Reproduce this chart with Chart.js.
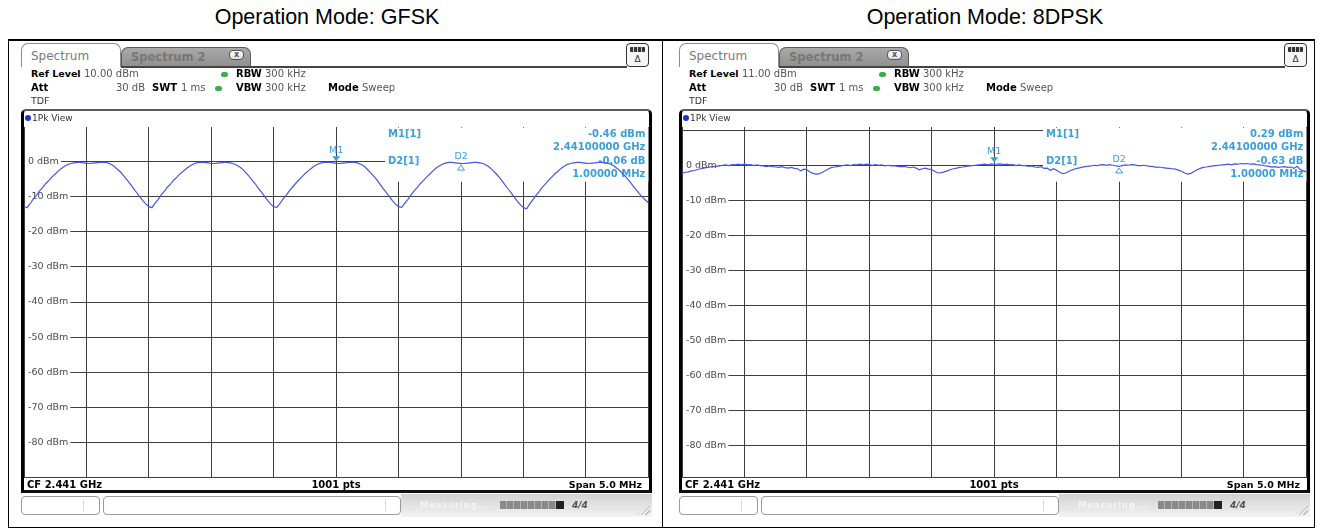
<!DOCTYPE html>
<html>
<head>
<meta charset="utf-8">
<title>Spectrum plots</title>
<script src="https://cdn.jsdelivr.net/npm/chart.js@4.4.1/dist/chart.umd.min.js"></script>
<style>
  html, body { margin: 0; padding: 0; background: #fff; }
  body { position: relative; width: 1322px; height: 529px; overflow: hidden; font-family: "DejaVu Sans", Verdana, sans-serif; }
  .title { position: absolute; top: 7px; width: 460px; text-align: center; font-family: "Liberation Sans", Arial, sans-serif; font-size: 21.5px; line-height: 21.5px; color: #000; }
  .panel { position: absolute; top: 0; width: 660px; height: 529px; }
  .box { position: absolute; box-sizing: border-box; }
  canvas { position: absolute; display: block; z-index: 1; }
</style>
</head>
<body>
<script>
// ---- measurement data ----
const modes = ['GFSK', '8DPSK'];
const refLevelsDbm = [10.00, 11.00];
const CF_GHZ = 2.441;
const SPAN_MHZ = 5.0;
const SWEEP_POINTS = 1001;
const TRACE_STEP_MHZ = 0.025;           // trace values every 25 kHz from CF - span/2
const yTickLabels = [0, -10, -20, -30, -40, -50, -60, -70, -80];
const yGridDbm = [10, 0, -10, -20, -30, -40, -50, -60, -70, -80];
const xGridMHz = [-2.5, -2.0, -1.5, -1.0, -0.5, 0, 0.5, 1.0, 1.5, 2.0, 2.5];
const markerNames = ['M1', 'D2'];
const markerOffsetsMHz = [0, 1.0];

const gfskLevel = [
  -12.7,
  -13.1, -11.9, -10.6, -9.5, -8.3, -7.3, -6.2, -5.3, -4.3, -3.5,
  -2.6, -1.9, -1.3, -0.8, -0.5, -0.3, -0.2, -0.2, -0.3, -0.4,
  -0.5, -0.4, -0.3, -0.2, -0.1, -0.2, -0.4, -0.8, -1.4, -2.2,
  -3.0, -4.1, -5.2, -6.3, -7.5, -8.7, -9.9, -11.0, -12.0, -12.8,
  -13.1,
  -11.8, -10.7, -9.4, -8.4, -7.2, -6.3, -5.2, -4.4, -3.4, -2.7,
  -1.9, -1.3, -0.8, -0.4, -0.2, -0.1, -0.2, -0.3, -0.5, -0.5,
  -0.4, -0.3, -0.2, -0.2, -0.3, -0.5, -0.9, -1.4, -2.1, -3.1,
  -4.0, -5.2, -6.2, -7.5, -8.6, -9.8, -11.0, -12.1, -12.8,
  -13.0,
  -11.9, -10.6, -9.5, -8.3, -7.2, -6.2, -5.2, -4.3, -3.4, -2.6,
  -1.9, -1.2, -0.7, -0.4, -0.2, -0.1, -0.2, -0.3, -0.46, -0.5,
  -0.4, -0.3, -0.2, -0.1, -0.2, -0.4, -0.8, -1.3, -2.2, -3.1,
  -4.1, -5.1, -6.4, -7.6, -8.7, -9.9, -11.1, -12.1, -12.8,
  -13.0,
  -11.8, -10.7, -9.4, -8.3, -7.3, -6.2, -5.3, -4.3, -3.5, -2.6,
  -1.8, -1.2, -0.7, -0.4, -0.2, -0.2, -0.3, -0.4, -0.52, -0.5,
  -0.4, -0.3, -0.2, -0.2, -0.3, -0.5, -0.9, -1.5, -2.3, -3.2,
  -4.2, -5.3, -6.5, -7.7, -8.8, -10.0, -11.2, -12.3, -13.1,
  -13.4,
  -12.0, -10.8, -9.6, -8.5, -7.3, -6.3, -5.3, -4.4, -3.5, -2.7,
  -1.9, -1.3, -0.8, -0.5, -0.3, -0.2, -0.2, -0.3, -0.4, -0.5,
  -0.4, -0.3, -0.2, -0.2, -0.3, -0.4, -0.7, -1.2, -1.9, -2.7,
  -3.6, -4.6, -5.6, -6.8, -7.9, -9.0, -10.0, -10.9, -11.7
];

const dpskLevel = [
  -2.3, -2.0, -1.9, -1.6, -1.5, -1.2, -1.0, -0.8, -0.6, -0.5,
  -0.4, -0.3, -0.2, 0.0, 0.1, -0.1, 0.2, 0.1, 0.3, 0.1,
  0.3, 0.1, 0.2, -0.1, 0.1, -0.1, -0.2, -0.4, -0.2, -0.4,
  -0.5, -0.6, -0.4, -0.7, -0.8, -0.6, -0.9, -1.0, -1.6, -1.1,
  -1.3, -1.9, -2.3, -2.5, -2.4, -2.0, -1.5, -1.0, -0.6, -0.5,
  -0.3, -0.2, 0.0, 0.1, -0.1, 0.2, 0.1, 0.3, 0.1, 0.3,
  0.2, 0.0, 0.2, 0.0, 0.1, -0.2, 0.0, -0.2, -0.1, -0.3,
  -0.4, -0.3, -0.5, -0.7, -0.5, -0.8, -1.3, -1.0, -0.8, -1.1,
  -1.2, -1.8, -2.2, -2.1, -1.9, -1.6, -1.2, -1.0, -0.8, -0.6,
  -0.5, -0.3, -0.2, -0.1, 0.0, 0.1, 0.2, 0.3, 0.1, 0.4,
  0.29, 0.3, 0.4, 0.2, 0.3, 0.1, 0.2, -0.1, 0.1, -0.1,
  -0.1, -0.3, -0.2, -0.5, -0.6, -0.4, -0.9, -0.8, -1.5, -1.0,
  -1.4, -2.0, -2.4, -2.2, -1.7, -1.3, -1.0, -0.8, -0.6, -0.4,
  -0.3, -0.2, 0.0, -0.1, 0.1, 0.2, 0.0, 0.2, 0.0, -0.2,
  -0.34, -0.1, 0.1, 0.0, 0.2, 0.1, -0.1, -0.1, 0.0, -0.2,
  -0.3, -0.4, -0.6, -0.5, -0.7, -0.8, -0.9, -1.0, -1.1, -1.4,
  -1.7, -2.2, -2.5, -2.3, -1.8, -1.3, -0.9, -0.6, -0.5, -0.3,
  -0.2, -0.1, 0.0, 0.1, 0.2, 0.3, 0.1, 0.4, 0.3, 0.5,
  0.4, 0.5, 0.3, 0.4, 0.2, 0.1, 0.0, -0.2, -0.3, -0.5,
  -0.4, -0.6, -0.5, -0.4, -0.6, -0.5, -0.9, -0.3, -1.2, -1.6,
  -1.9
];
const traces = [gfskLevel, dpskLevel];

// ---- look ----
const panelX = [0, 658];
const MARKER_BLUE = '#3a9fdc';
const TRACE_BLUE = '#4656e4';
const GRID_GREY = '#3e3e3e';
Chart.defaults.font.family = '"DejaVu Sans", Verdana, sans-serif';

function el(parent, css, text) {
  const d = document.createElement('div');
  d.className = 'box';
  Object.assign(d.style, css);
  if (text != null) d.textContent = text;
  parent.appendChild(d);
  return d;
}
// text placed by its left edge (or right / centre) and vertical centre
function label(parent, x, yc, text, o = {}) {
  const lh = o.lh || 12;
  const css = {
    top: (yc - lh / 2) + 'px', lineHeight: lh + 'px', fontSize: (o.size || 10) + 'px',
    fontWeight: o.bold ? 'bold' : 'normal', color: o.color || '#000', whiteSpace: 'nowrap',
    zIndex: o.z || 4
  };
  if (o.fontStyle) css.fontStyle = o.fontStyle;
  if (o.spacing) css.letterSpacing = o.spacing;
  if (o.align === 'right') { css.left = (x - 300) + 'px'; css.width = '300px'; css.textAlign = 'right'; }
  else if (o.align === 'center') { css.left = (x - 150) + 'px'; css.width = '300px'; css.textAlign = 'center'; }
  else css.left = x + 'px';
  return el(parent, css, text);
}

// page frame lines
el(document.body, { left: '8px', top: '39px', width: '1307px', height: '2px', background: '#000' });
[8, 662, 1314].forEach(x => el(document.body, { left: x + 'px', top: '40px', width: '1px', height: '488px', background: '#000' }));
el(document.body, { left: '8px', top: '527px', width: '1307px', height: '1px', background: '#000' });

const markerInfoPlugin = {
  id: 'markerInfo',
  beforeDatasetsDraw(chart, args, o) {
    const { ctx, chartArea: a } = chart;
    const bx = a.left + o.boxLeft;
    ctx.save();
    ctx.fillStyle = '#fff';
    ctx.fillRect(bx, a.top + 1, a.right - bx, o.boxHeight);
    ctx.fillStyle = MARKER_BLUE;
    ctx.font = 'bold 10px "DejaVu Sans"';
    ctx.textBaseline = 'middle';
    ctx.textAlign = 'left';
    o.rows.forEach(r => { if (r.left) ctx.fillText(r.left, bx + 3, a.top + r.dy); });
    ctx.textAlign = 'right';
    o.rows.forEach(r => ctx.fillText(r.right, a.right - 3, a.top + r.dy));
    ctx.restore();
  },
  afterDatasetsDraw(chart, args, o) {
    const { ctx } = chart;
    const xs = chart.scales.x, ys = chart.scales.y;
    ctx.save();
    ctx.fillStyle = MARKER_BLUE;
    ctx.strokeStyle = MARKER_BLUE;
    ctx.lineWidth = 1;
    ctx.font = '9.5px "DejaVu Sans"';
    ctx.textAlign = 'center';
    ctx.textBaseline = 'middle';
    o.markers.forEach(m => {
      const x = xs.getPixelForValue(m.f), y = ys.getPixelForValue(m.level);
      if (m.delta) {
        ctx.beginPath();
        ctx.moveTo(x, y + 1.5); ctx.lineTo(x + 3.5, y + 6.5); ctx.lineTo(x - 3.5, y + 6.5);
        ctx.closePath(); ctx.stroke();
        ctx.fillText(m.name, x, y - 7);
      } else {
        ctx.beginPath();
        ctx.moveTo(x - 4, y - 7); ctx.lineTo(x + 4, y - 7); ctx.lineTo(x, y - 2);
        ctx.closePath(); ctx.fill();
        ctx.fillText(m.name, x, y - 12.5);
      }
    });
    ctx.restore();
  }
};

function fitChart(chart, x, y, w, h) {
  for (let k = 0; k < 2; k++) {
    const a = chart.chartArea;
    const l = Math.round(a.left), t = Math.round(a.top);
    const r = Math.round(chart.width - a.right), b = Math.round(chart.height - a.bottom);
    chart.resize(w + l + r, h + t + b);
    chart.canvas.style.left = (x - l) + 'px';
    chart.canvas.style.top = (y - t) + 'px';
  }
}

function buildPanel(k) {
  const ox = panelX[k], ref = refLevelsDbm[k], levels = traces[k];
  const p = el(document.body, { left: ox + 'px', top: '0px', width: '660px', height: '529px' });

  // title
  const t = document.createElement('div');
  t.className = 'title';
  t.style.left = (327 - 230) + 'px';
  t.textContent = 'Operation Mode: ' + modes[k];
  p.appendChild(t);

  // tabs
  el(p, { left: '21px', top: '43px', width: '100px', height: '24px', border: '1px solid #8c8c8c', borderBottom: 'none', borderRadius: '7px 7px 0 0', background: '#fff', zIndex: 3 });
  label(p, 31, 56, 'Spectrum', { size: 12, color: '#7a7a7a', lh: 14 });
  el(p, { left: '121px', top: '47px', width: '130px', height: '20px', border: '1px solid #5a5a5a', borderBottom: 'none', borderRadius: '7px 7px 0 0', background: 'linear-gradient(#a9a9a9, #8f8f8f)', zIndex: 2 });
  label(p, 131, 57, 'Spectrum 2', { size: 11.5, bold: true, color: '#777', lh: 14 });
  el(p, { left: '229px', top: '50px', width: '15px', height: '10px', border: '1px solid #555', borderRadius: '4px', background: 'linear-gradient(#fff, #ddd)', zIndex: 3 });
  label(p, 236.5, 55, 'x', { size: 8, bold: true, color: '#555', lh: 10, align: 'center' });
  el(p, { left: '121px', top: '66px', width: '506px', height: '1.5px', background: '#444', zIndex: 2 });
  // display-config icon
  el(p, { left: '626px', top: '43px', width: '23px', height: '24px', border: '1.5px solid #333', borderRadius: '4px', background: '#f6f6f6', zIndex: 3 });
  el(p, { left: '630px', top: '47px', width: '15px', height: '5px', borderRadius: '1px', background: 'repeating-linear-gradient(to right, #333 0 3px, #ccc 3px 4px)', zIndex: 4 });
  label(p, 637.5, 59, 'Δ', { size: 9, color: '#333', lh: 10, align: 'center' });

  // setting rows
  const dot = (x, y) => el(p, { left: (x - 3.5) + 'px', top: (y - 2.5) + 'px', width: '7px', height: '5px', borderRadius: '3px', background: '#3eaa48' });
  label(p, 31, 74, 'Ref Level', { bold: true, size: 9.5 });
  label(p, 84, 74, ref.toFixed(2) + ' dBm', { color: '#555' });
  dot(224.5, 74);
  label(p, 236, 74, 'RBW', { bold: true });
  label(p, 265, 74, '300 kHz', { color: '#555' });
  label(p, 31, 88, 'Att', { bold: true });
  label(p, 145, 88, '30 dB', { color: '#555', align: 'right' });
  label(p, 152, 88, 'SWT', { bold: true });
  label(p, 181, 88, '1 ms', { color: '#555' });
  dot(218.5, 88);
  label(p, 236, 88, 'VBW', { bold: true });
  label(p, 265, 88, '300 kHz', { color: '#555' });
  label(p, 328, 88, 'Mode', { bold: true });
  label(p, 362, 88, 'Sweep', { color: '#555' });
  label(p, 31, 101, 'TDF', { color: '#333', size: 9.5 });

  // diagram frame
  el(p, { left: '21px', top: '109px', width: '631px', height: '384px', borderLeft: '3px solid #000', borderRight: '3px solid #000', borderBottom: '3px solid #111', borderTop: '2px solid #5a5a5a', borderRadius: '5px 5px 0 0', zIndex: 3 });
  el(p, { left: '24px', top: '111px', width: '625px', height: '16px', background: '#fff', zIndex: 2 });
  el(p, { left: '25px', top: '115px', width: '6px', height: '6px', borderRadius: '3px', background: '#1d2fd8', zIndex: 4 });
  label(p, 32, 118, '1Pk View', { size: 9, color: '#333' });
  el(p, { left: '24px', top: '478px', width: '625px', height: '12px', background: '#fff', zIndex: 2 });
  label(p, 27, 485, 'CF ' + CF_GHZ + ' GHz', { bold: true, size: 10 });
  label(p, 336, 485, SWEEP_POINTS + ' pts', { bold: true, size: 10, align: 'center' });
  label(p, 642, 485, 'Span ' + SPAN_MHZ.toFixed(1) + ' MHz', { bold: true, size: 9.5, align: 'right' });

  // status line
  el(p, { left: '21px', top: '496px', width: '79px', height: '19px', border: '1px solid #9a9a9a', borderRadius: '4px', background: '#fff' });
  el(p, { left: '83px', top: '499px', width: '1px', height: '13px', background: '#ddd' });
  el(p, { left: '103px', top: '496px', width: '298px', height: '19px', border: '1px solid #9a9a9a', borderRadius: '4px', background: '#fff' });
  el(p, { left: '385px', top: '499px', width: '1px', height: '13px', background: '#ddd' });
  el(p, { left: '401px', top: '494px', width: '251px', height: '23px', background: 'linear-gradient(#d2d2d2, #f3f3f3)' });
  label(p, 420, 505, 'Measuring...', { size: 8.5, bold: true, color: '#f4f4f4', spacing: '0.8px' });
  el(p, { left: '500px', top: '501px', width: '56px', height: '8px', background: 'repeating-linear-gradient(to right, #8a8a8a 0 6px, #b4b4b4 6px 7px)' });
  el(p, { left: '556px', top: '501px', width: '8px', height: '8px', background: '#222' });
  label(p, 572, 505, '4/4', { size: 9, bold: true, fontStyle: 'italic', color: '#555' });
  el(p, { left: '637px', top: '503px', width: '13px', height: '12px', background: 'repeating-linear-gradient(135deg, transparent 0 2px, #b8b8b8 2px 3px)', clipPath: 'polygon(100% 0, 100% 100%, 0 100%)' });

  // spectrum trace
  const canvas = document.createElement('canvas');
  canvas.width = 700; canvas.height = 420;
  p.appendChild(canvas);

  const idxOf = f => Math.round((f + SPAN_MHZ / 2) / TRACE_STEP_MHZ);
  const m1 = levels[idxOf(markerOffsetsMHz[0])];
  const d2 = levels[idxOf(markerOffsetsMHz[1])];
  const yTicks = Array.from(new Set([ref - 100, ...yGridDbm, ref])).sort((a, b) => a - b);
  const pts = levels.map((v, i) => ({ x: -SPAN_MHZ / 2 + i * TRACE_STEP_MHZ, y: v }));

  const chart = new Chart(canvas, {
    type: 'line',
    data: { datasets: [{ data: pts, borderColor: TRACE_BLUE, borderWidth: 1.2, pointRadius: 0, tension: 0, fill: false }] },
    options: {
      responsive: false, maintainAspectRatio: false, animation: false, events: [],
      layout: { padding: 0 },
      plugins: {
        legend: { display: false }, tooltip: { enabled: false },
        markerInfo: {
          boxLeft: 361, boxHeight: 54,
          rows: [
            { left: markerNames[0] + '[1]', right: m1.toFixed(2) + ' dBm', dy: 8 },
            { right: (CF_GHZ + markerOffsetsMHz[0] / 1000).toFixed(8) + ' GHz', dy: 21 },
            { left: markerNames[1] + '[1]', right: (d2 - m1).toFixed(2) + ' dB', dy: 35 },
            { right: (markerOffsetsMHz[1] - markerOffsetsMHz[0]).toFixed(5) + ' MHz', dy: 48 }
          ],
          markers: [
            { name: markerNames[0], f: markerOffsetsMHz[0], level: m1, delta: false },
            { name: markerNames[1], f: markerOffsetsMHz[1], level: d2, delta: true }
          ]
        }
      },
      scales: {
        x: {
          type: 'linear', min: -SPAN_MHZ / 2, max: SPAN_MHZ / 2,
          afterBuildTicks: s => { s.ticks = xGridMHz.map(v => ({ value: v })); },
          ticks: { display: false },
          grid: { color: GRID_GREY, lineWidth: 1, drawTicks: false },
          border: { display: true, color: GRID_GREY }
        },
        y: {
          type: 'linear', min: ref - 100, max: ref,
          afterBuildTicks: s => { s.ticks = yTicks.map(v => ({ value: v })); },
          ticks: {
            mirror: true, padding: 4, color: '#4a4a4a', font: { size: 9.5 },
            callback: v => yTickLabels.includes(v) ? v + ' dBm' : '',
            showLabelBackdrop: c => !!(c.tick && yTickLabels.includes(c.tick.value)),
            backdropColor: '#fff',
            backdropPadding: { left: 3, right: 2, top: 0, bottom: 0 }
          },
          grid: { color: GRID_GREY, lineWidth: 1, drawTicks: false },
          border: { display: true, color: GRID_GREY }
        }
      }
    },
    plugins: [markerInfoPlugin]
  });
  fitChart(chart, 24, 127, 624, 350);
}

modes.forEach((m, k) => buildPanel(k));
</script>
</body>
</html>
